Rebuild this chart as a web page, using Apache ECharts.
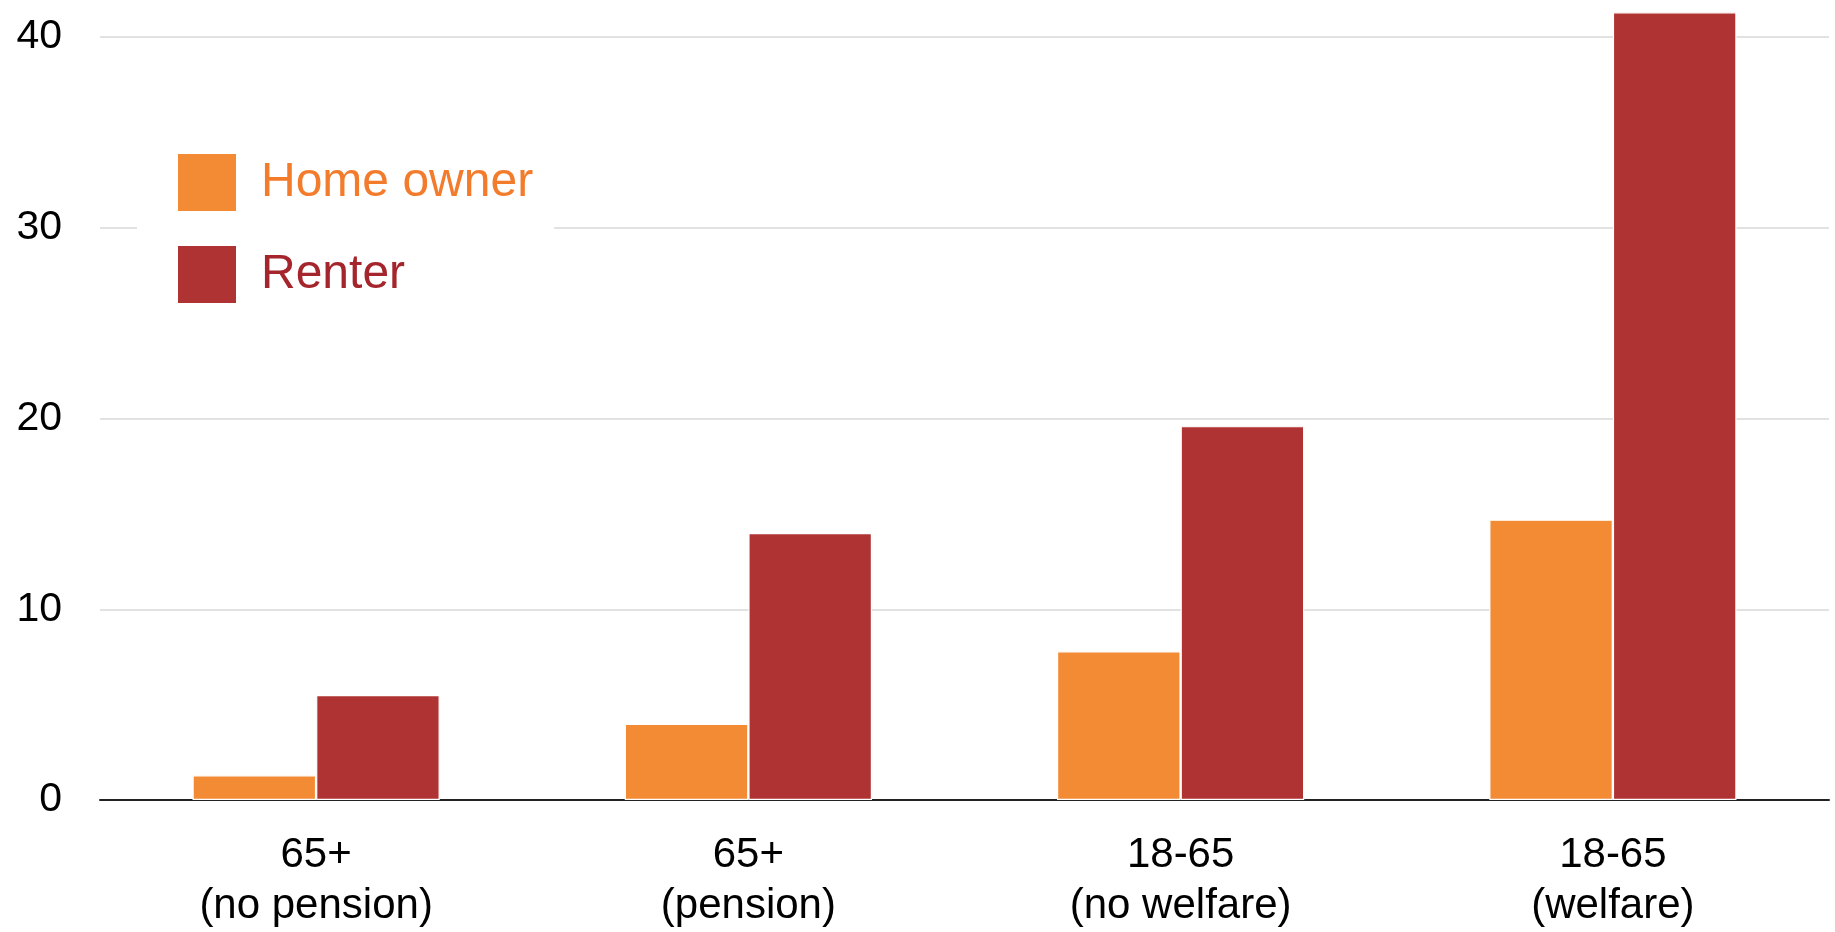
<!DOCTYPE html>
<html>
<head>
<meta charset="utf-8">
<title>Home owners vs renters</title>
<script src="https://cdn.jsdelivr.net/npm/echarts@6/dist/echarts.min.js"></script>
<style>
  html, body { margin: 0; padding: 0; background: #ffffff; }
  #chart { width: 1835px; height: 932px; }
</style>
</head>
<body>
<div id="chart"></div>
<script>
// Groups along the x axis (two-line labels)
const categories = [
  '65+\n(no pension)',
  '65+\n(pension)',
  '18-65\n(no welfare)',
  '18-65\n(welfare)'
];

// Values per tenure type
const homeOwner = [1.3, 4.0, 7.8, 14.7];
const renter = [5.5, 14.0, 19.6, 41.3];

const seriesNames = ['Home owner', 'Renter'];
const yTicks = { min: 0, max: 40, interval: 10 };

const FONT = '"Liberation Sans", Arial, Helvetica, sans-serif';
const ORANGE = '#F38B35';
const RED = '#B03333';

const chart = echarts.init(document.getElementById('chart'), null, { renderer: 'canvas' });

chart.setOption({
  backgroundColor: '#ffffff',
  animation: false,
  textStyle: { fontFamily: FONT },
  grid: { left: 100, right: 6, top: 37, bottom: 128, containLabel: false },
  legend: {
    orient: 'vertical',
    left: 137,
    top: 122,
    padding: [30, 21, 30, 39],
    backgroundColor: '#ffffff',
    itemWidth: 60,
    itemHeight: 59,
    itemGap: 31,
    icon: 'rect',
    selectedMode: false,
    textStyle: { fontSize: 48, fontFamily: FONT, padding: [14, 0, 0, 19] },
    data: [
      { name: seriesNames[0], textStyle: { color: '#F27C2C' } },
      { name: seriesNames[1], textStyle: { color: '#A4252B' } }
    ]
  },
  xAxis: {
    type: 'category',
    data: categories,
    axisLine: { lineStyle: { color: '#222222', width: 2 } },
    axisTick: { show: false },
    axisLabel: {
      color: '#000000',
      fontSize: 42,
      lineHeight: 51,
      margin: 30,
      fontFamily: FONT
    }
  },
  yAxis: {
    type: 'value',
    min: yTicks.min,
    max: yTicks.max,
    interval: yTicks.interval,
    axisLine: { show: false },
    axisTick: { show: false },
    axisLabel: {
      color: '#000000',
      fontSize: 41,
      margin: 38,
      padding: [10, 0, 0, 0],
      fontFamily: FONT
    },
    splitLine: { lineStyle: { color: '#e2e2e2', width: 2 } }
  },
  series: [
    {
      name: seriesNames[0],
      type: 'bar',
      data: homeOwner,
      barWidth: '28.6%',
      barGap: '0%',
      clip: false,
      itemStyle: { color: ORANGE, borderColor: '#ffffff', borderWidth: 1.2 }
    },
    {
      name: seriesNames[1],
      type: 'bar',
      data: renter,
      barWidth: '28.6%',
      barGap: '0%',
      clip: false,
      itemStyle: { color: RED, borderColor: '#ffffff', borderWidth: 1.2 }
    }
  ]
});
</script>
</body>
</html>
